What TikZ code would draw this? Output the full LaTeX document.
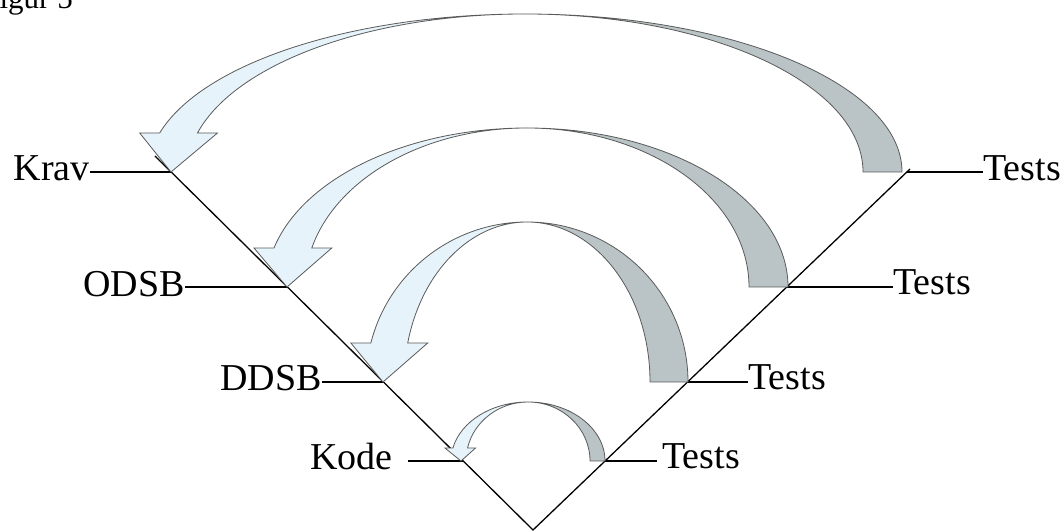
\documentclass[tikz,border=0pt]{standalone}
\usepackage{fontspec}
\setmainfont{Liberation Serif}
\usetikzlibrary{calc}
\definecolor{bandblue}{HTML}{E6F3FA}
\definecolor{bandgrey}{HTML}{BAC4C7}
\definecolor{bandedge}{HTML}{5A5A5A}
\tikzset{
  lbl/.style={inner sep=0pt, font=\fontsize{38}{45}\selectfont},
  vline/.style={line width=1.3pt, black},
  blueband/.style={fill=bandblue, draw=bandedge, line width=0.8pt, line join=miter},
  greyband/.style={fill=bandgrey, draw=bandedge, line width=0.8pt, line join=miter},
}
% #1 cx, #2 baseline Y, #3 y radius, #4 outer x radius, #5 inner x radius,
% #6 head base height, #7 head overhang, #8 tip x, #9 name
\newcommand{\twistarrow}[9]{%
  \pgfmathsetmacro\oa{180-asin(#6/#3)}%
  \coordinate (#9c) at (#1,#2);
  \coordinate (#9top) at (#1,#2+#3);
  \draw[greyband] (#9top) arc[start angle=90, end angle=0, x radius=#4pt, y radius=#3pt]
    -- ($(#9c)+(#5pt,0)$)
    arc[start angle=0, end angle=90, x radius=#5pt, y radius=#3pt] -- cycle;
  \draw[blueband] (#9top) arc[start angle=90, end angle=\oa, x radius=#4pt, y radius=#3pt]
    -- ++(-#7,0) -- (#8,#2) -- ($(#9c)+(\oa:#5pt and #3pt)+(#7,0)$)
    -- ($(#9c)+(\oa:#5pt and #3pt)$)
    arc[start angle=\oa, end angle=90, x radius=#5pt, y radius=#3pt] -- cycle;
}
\begin{document}
\begin{tikzpicture}[x=1pt,y=1pt]
\useasboundingbox (0,0) rectangle (1064,532);
\node[inner sep=0pt, anchor=base east, font=\fontsize{31}{37}\selectfont] (fig) at (73,523) {Figur 5};

% the V
\coordinate (V) at (533,2);
\coordinate (LT) at (155,376);
\coordinate (RT) at (910,363);
\draw[vline] (LT) -- (V) -- (RT);

% points on the diagonals
\coordinate (kravP) at (171,360);
\coordinate (odsbP) at (287,245);
\coordinate (ddsbP) at (383,150);
\coordinate (kodeP) at (463,71);
\coordinate (t1P) at (907,360);
\coordinate (t2P) at (787,245);
\coordinate (t3P) at (688,150);
\coordinate (t4P) at (605,71);

% labels
\node[lbl, anchor=base east] (krav) at (90,351) {Krav};
\node[lbl, anchor=base east] (odsb) at (185,235) {ODSB};
\node[lbl, anchor=base east] (ddsb) at (322,141) {DDSB};
\node[lbl, anchor=base east] (kode) at (393,62) {Kode};
\node[lbl, anchor=base west] (tests1) at (983,351) {Tests};
\node[lbl, anchor=base west] (tests2) at (893,237) {Tests};
\node[lbl, anchor=base west] (tests3) at (748,142) {Tests};
\node[lbl, anchor=base west] (tests4) at (662,63) {Tests};

\draw[vline] (krav.east |- kravP) -- (kravP);
\draw[vline] (odsb.east |- odsbP) -- (odsbP);
\draw[vline] (ddsb.east |- ddsbP) -- (ddsbP);
\draw[vline] ([xshift=15pt]kode.east |- kodeP) -- (kodeP);
\draw[vline] (t1P) -- (tests1.west |- t1P);
\draw[vline] (t2P) -- (tests2.west |- t2P);
\draw[vline] (t3P) -- (tests3.west |- t3P);
\draw[vline] (t4P) -- ([xshift=-5pt]tests4.west |- t4P);

% twisted curved arrows
\twistarrow{525}{360}{158}{377}{338}{39}{20}{171}{a1}
\twistarrow{527}{245}{159}{261}{222}{39}{20}{287}{a2}
\twistarrow{527}{150}{160}{161}{123}{39}{20}{383}{a3}
\twistarrow{528}{71}{59}{77}{62}{13}{8}{461}{a4}
\end{tikzpicture}
\end{document}
